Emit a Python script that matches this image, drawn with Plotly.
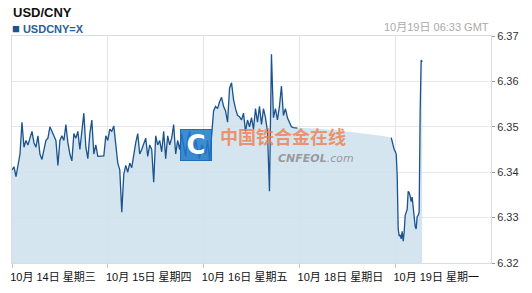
import pandas as pd
import plotly.graph_objects as go

# ---- data ----
# 30-minute quotes, Oct 14 (Wed) 00:00 .. Oct 16 (Fri) 23:30
wed_thu_fri = [
    # Oct 14
    6.3405, 6.3412, 6.3390, 6.3415, 6.3440, 6.3510, 6.3455, 6.3470, 6.3460, 6.3475,
    6.3490, 6.3465, 6.3455, 6.3480, 6.3440, 6.3428, 6.3450, 6.3470, 6.3475, 6.3500,
    6.3490, 6.3478, 6.3470, 6.3415, 6.3470, 6.3480, 6.3470, 6.3505, 6.3465, 6.3440,
    6.3425, 6.3485, 6.3475, 6.3490, 6.3450, 6.3490, 6.3530, 6.3455, 6.3430, 6.3485,
    6.3515, 6.3440, 6.3460, 6.3435, 6.3435, 6.3435, 6.3436, 6.3480,
    # Oct 15
    6.3470, 6.3495, 6.3490, 6.3502, 6.3455, 6.3420, 6.3405, 6.3312, 6.3395, 6.3415,
    6.3400, 6.3420, 6.3410, 6.3440, 6.3465, 6.3485, 6.3440, 6.3450, 6.3465, 6.3475,
    6.3435, 6.3460, 6.3450, 6.3378, 6.3480, 6.3460, 6.3470, 6.3445, 6.3490, 6.3430,
    6.3480, 6.3460, 6.3475, 6.3505, 6.3440, 6.3470, 6.3450, 6.3485, 6.3460, 6.3435,
    6.3475, 6.3490, 6.3455, 6.3440, 6.3470, 6.3450, 6.3430, 6.3460,
    # Oct 16
    6.3450, 6.3440, 6.3470, 6.3425, 6.3480, 6.3535, 6.3545, 6.3540, 6.3555, 6.3565,
    6.3545, 6.3535, 6.3510, 6.3585, 6.3597, 6.3560, 6.3540, 6.3525, 6.3522, 6.3515,
    6.3530, 6.3490, 6.3515, 6.3500, 6.3520, 6.3495, 6.3540, 6.3510, 6.3545, 6.3505,
    6.3540, 6.3520, 6.3490, 6.3358, 6.3660, 6.3520, 6.3540, 6.3515, 6.3545, 6.3590,
    6.3525, 6.3540, 6.3520, 6.3510, 6.3500, 6.3498, 6.3498, 6.3497,
]
# hourly, Oct 18 (Sun) 00:00 .. 22:00 (area only, no line drawn)
sunday = [
    6.3498, 6.3498, 6.3497, 6.3497, 6.3496, 6.3496, 6.3495, 6.3494, 6.3494, 6.3493,
    6.3492, 6.3491, 6.3490, 6.3489, 6.3488, 6.3487, 6.3486, 6.3485, 6.3484, 6.3483,
    6.3482, 6.3480, 6.3478,
]
# 15-minute quotes, Oct 18 23:00 .. Oct 19 06:45
monday = [
    6.3476, 6.3465, 6.3455, 6.3450, 6.3446, 6.3440, 6.3393, 6.3275, 6.3259, 6.3262,
    6.3253, 6.3270, 6.3248, 6.3268, 6.3305, 6.3312, 6.3318, 6.3358, 6.3355, 6.3347,
    6.3335, 6.3345, 6.3318, 6.3310, 6.3281, 6.3275, 6.3302, 6.3305, 6.3312, 6.3533,
    6.3647, 6.3643,
]

t_week = pd.date_range("2015-10-14 00:00", periods=len(wed_thu_fri), freq="30min")
t_sun = pd.date_range("2015-10-18 00:00", periods=len(sunday), freq="1h")
t_mon = pd.date_range("2015-10-18 23:00", periods=len(monday), freq="15min")

tick_dates = ["2015-10-14", "2015-10-15", "2015-10-16", "2015-10-18", "2015-10-19"]
tick_labels = ["10月 14日 星期三", "10月 15日 星期四", "10月 16日 星期五",
               "10月 18日 星期日", "10月 19日 星期一"]
y_ticks = [6.32, 6.33, 6.34, 6.35, 6.36, 6.37]

x_all = list(t_week) + list(t_sun) + list(t_mon)
y_fill = wed_thu_fri + sunday + monday
y_line = wed_thu_fri + [None] * len(sunday) + monday

LINE = "#1b538c"
FILL = "rgba(205,224,237,0.85)"
GRID = "#e4e8ee"
FONT = "Liberation Sans, Arial, Noto Sans CJK SC, sans-serif"

fig = go.Figure()
fig.add_trace(go.Scatter(x=x_all, y=y_fill, mode="lines", line=dict(width=0, color=FILL),
                         fill="tozeroy", fillcolor=FILL, hoverinfo="skip", showlegend=False))
fig.add_trace(go.Scatter(x=x_all, y=y_line, mode="lines", connectgaps=False,
                         line=dict(color=LINE, width=1.3), hoverinfo="skip", showlegend=False))

fig.update_layout(
    width=532, height=293,
    margin=dict(l=10, r=41, t=36, b=29),
    paper_bgcolor="white", plot_bgcolor="white",
    font=dict(family=FONT, size=11, color="#222"),
    showlegend=False,
    xaxis=dict(
        type="date",
        range=["2015-10-14 00:00", "2015-10-20 00:00"],
        rangebreaks=[dict(values=["2015-10-17"])],
        tickvals=tick_dates, ticktext=tick_labels,
        ticklabelshift=41,
        ticks="outside", ticklen=4, tickcolor="#c8c8c8",
        showgrid=True, gridcolor=GRID, gridwidth=1,
        showline=True, linecolor="#d8dde4", mirror=True,
        tickfont=dict(size=11, color="#111"),
        fixedrange=True,
    ),
    yaxis=dict(
        side="right",
        range=[6.32, 6.37],
        tickvals=y_ticks, ticktext=[f"{v:.2f}" for v in y_ticks],
        ticks="outside", ticklen=3, tickcolor="#999",
        showgrid=True, gridcolor=GRID, gridwidth=1,
        showline=True, linecolor="#d8dde4", mirror=True,
        tickfont=dict(size=11, color="#333"),
        fixedrange=True,
    ),
    annotations=[
        dict(text="<b>USD/CNY</b>", xref="paper", yref="paper", x=-0.002, y=1.0,
             yshift=33, xanchor="left", yanchor="top", showarrow=False,
             font=dict(size=13, color="#111", family=FONT)),
        dict(text="<span style='color:#1b538c;font-size:13px'>■</span> <b>USDCNY=X</b>",
             xref="paper", yref="paper",
             x=-0.004, y=1.0, yshift=17, xanchor="left", yanchor="top", showarrow=False,
             font=dict(size=11, color="#2a5f98", family=FONT)),
        dict(text="10月19日 06:33 GMT", xref="paper", yref="paper", x=1.0, y=1.0, yshift=17,
             xanchor="right", yanchor="top", showarrow=False,
             font=dict(size=11, color="#aaaaaa", family=FONT)),
        # watermark
        dict(text="<b>C</b>", xref="paper", yref="paper", x=0.385, y=0.518, xanchor="center",
             yanchor="middle", showarrow=False, bgcolor="rgba(30,120,200,0.85)",
             bordercolor="rgba(20,100,180,0.9)", borderwidth=1, borderpad=3, width=24, height=24,
             font=dict(size=26, color="white", family="DejaVu Sans")),
        dict(text="<b>中国铁合金在线</b>", xref="paper", yref="paper", x=0.430, y=0.558,
             xanchor="left", yanchor="middle", showarrow=False, height=20,
             font=dict(size=18, color="rgba(240,125,75,0.8)", family="Noto Sans CJK SC")),
        dict(text="<b><i>CNFEOL</i></b><i>.com</i>", xref="paper", yref="paper", x=0.551, y=0.462,
             xanchor="left", yanchor="middle", showarrow=False, height=12,
             font=dict(size=11, color="rgba(140,140,140,0.85)", family="DejaVu Sans")),
    ],
)

fig.write_html("out.html")
